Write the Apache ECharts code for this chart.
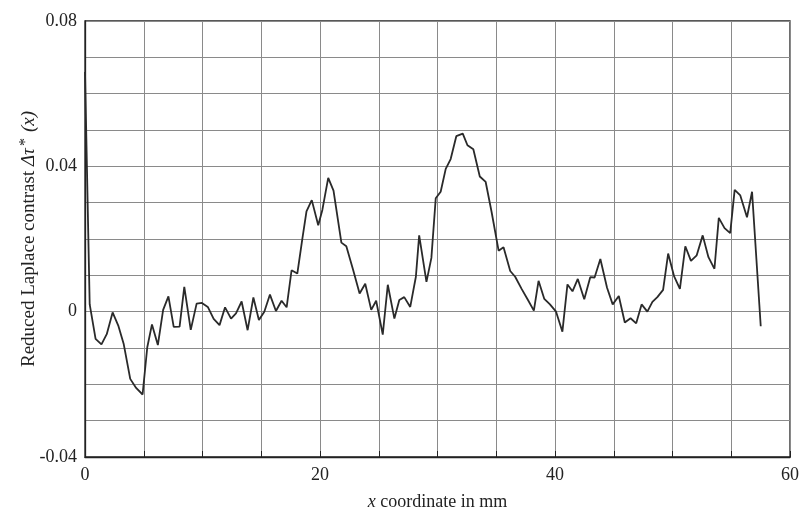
<!DOCTYPE html>
<html>
<head>
<meta charset="utf-8">
<script src="https://cdn.jsdelivr.net/npm/echarts@6/dist/echarts.min.js"></script>
<style>html,body{margin:0;padding:0;background:#fff}#c{width:799px;height:513px}</style>
</head>
<body>
<div id="c"></div>
<script>
var xValues = [0, 0.4, 0.9, 1.4, 1.85, 2.35, 2.85, 3.3, 3.85, 4.35, 4.9, 5.3, 5.7, 6.2, 6.65, 7.1, 7.55, 8.05, 8.45, 9.0, 9.5, 9.95,
  10.45, 10.95, 11.45, 11.92, 12.43, 12.85, 13.33, 13.84, 14.33, 14.8, 15.26, 15.74, 16.25, 16.73, 17.16, 17.58, 18.07, 18.5, 18.85, 19.3, 19.85,
  20.2, 20.7, 21.15, 21.82, 22.24, 22.81, 23.37, 23.85, 24.36, 24.78, 25.34, 25.77, 26.33, 26.75, 27.17, 27.68, 28.16, 28.44, 29.06, 29.48, 29.85,
  30.27, 30.7, 31.12, 31.6, 32.15, 32.55, 33.05, 33.6, 34.1, 34.6, 35.2, 35.62, 36.19, 36.61, 37.17, 37.7, 38.2, 38.6,
  39.09, 39.57, 40.09, 40.63, 41.06, 41.49, 41.94, 42.49, 43.0, 43.37, 43.86, 44.43, 44.91, 45.43, 45.94, 46.43, 46.91, 47.37, 47.86, 48.29, 48.71, 49.2,
  49.63, 50.14, 50.63, 51.09, 51.57, 52.06, 52.57, 53.06, 53.57, 53.94, 54.43, 54.91, 55.29, 55.77, 56.34, 56.77, 57.51];
var yValues = [0.066, 0.002, -0.0075, -0.009, -0.0062, -0.0002, -0.004, -0.009, -0.0185, -0.021, -0.0228, -0.0098, -0.0035, -0.0092, 0.0005, 0.0042, -0.0042, -0.0041, 0.0068, -0.005, 0.0022, 0.0024,
  0.0013, -0.002, -0.0037, 0.0012, -0.0019, -0.0005, 0.0028, -0.0051, 0.0039, -0.0023, 0.0, 0.0047, 0.0002, 0.003, 0.0012, 0.0114, 0.0105, 0.0201, 0.0276, 0.0307, 0.0238,
  0.028, 0.0368, 0.0333, 0.019, 0.018, 0.0116, 0.005, 0.0077, 0.0005, 0.003, -0.0063, 0.0074, -0.0019, 0.0032, 0.004, 0.0013, 0.0096, 0.021, 0.0082, 0.0148, 0.0312,
  0.033, 0.0393, 0.042, 0.0483, 0.049, 0.0458, 0.0447, 0.0372, 0.0357, 0.0275, 0.0168, 0.0177, 0.0112, 0.0096, 0.0062, 0.0032, 0.0003, 0.0085,
  0.0035, 0.002, 0.0, -0.0055, 0.0075, 0.0056, 0.009, 0.0034, 0.0095, 0.0094, 0.0145, 0.0066, 0.002, 0.0043, -0.003, -0.0018, -0.0032, 0.002, 0.0, 0.0027, 0.004, 0.006,
  0.016, 0.0097, 0.0063, 0.018, 0.014, 0.0155, 0.021, 0.015, 0.0118, 0.0258, 0.023, 0.0216, 0.0335, 0.032, 0.026, 0.033, -0.004];
var xTickLabels = [0, 20, 40, 60];
var yTickLabels = [-0.04, 0, 0.04, 0.08];

var serif = '"Liberation Serif", "DejaVu Serif", serif';
function near(v, arr) {
  for (var i = 0; i < arr.length; i++) if (Math.abs(v - arr[i]) < 1e-9) return arr[i];
  return null;
}
var chart = echarts.init(document.getElementById('c'), null, {renderer: 'canvas'});
chart.setOption({
  backgroundColor: '#fff',
  animation: false,
  grid: {left: 85, right: 9, top: 21, bottom: 56, containLabel: false, outerBoundsMode: 'none',
    show: true, borderColor: '#222', borderWidth: 1.3, backgroundColor: 'transparent'},
  xAxis: {
    type: 'value', min: 0, max: 60, interval: 5,
    name: '{i|x} coordinate in mm',
    nameLocation: 'middle', nameGap: 36, nameMoveOverlap: false,
    nameTextStyle: {fontFamily: serif, fontSize: 18, color: '#222',
      rich: {i: {fontFamily: serif, fontSize: 18, fontStyle: 'italic', color: '#222'}}},
    axisLine: {show: true, onZero: false, lineStyle: {color: '#222', width: 1.3}},
    axisTick: {show: true, inside: true, length: 6, lineStyle: {color: '#222'}},
    axisLabel: {fontFamily: serif, fontSize: 18, color: '#222', margin: 9,
      formatter: function (v) { var t = near(v, xTickLabels); return t === null ? '' : String(t); }},
    splitLine: {show: true, lineStyle: {color: '#8a8a8a', width: 1}}
  },
  yAxis: {
    type: 'value', min: -0.04, max: 0.08, interval: 0.01,
    name: 'Reduced Laplace contrast {i|Δτ}{s|*}{i|(x)}',
    nameLocation: 'middle', nameGap: 45, nameRotate: 90, nameMoveOverlap: false,
    nameTextStyle: {fontFamily: serif, fontSize: 19, color: '#222', lineHeight: 22,
      rich: {
        i: {fontFamily: serif, fontSize: 19, fontStyle: 'italic', color: '#222', lineHeight: 22},
        s: {fontFamily: serif, fontSize: 16, color: '#222', lineHeight: 22, verticalAlign: 'top', padding: [0, 6, 0, 2]}
      }},
    axisLine: {show: true, onZero: false, lineStyle: {color: '#222', width: 1.3}},
    axisTick: {show: false},
    axisLabel: {fontFamily: serif, fontSize: 18, color: '#222', margin: 8,
      formatter: function (v) { var t = near(v, yTickLabels); return t === null ? '' : (t === 0 ? '0' : t.toFixed(2)); }},
    splitLine: {show: true, lineStyle: {color: '#8a8a8a', width: 1}}
  },
  series: [{
    type: 'line',
    data: xValues.map(function (x, i) { return [x, yValues[i]]; }),
    showSymbol: false, symbol: 'none',
    lineStyle: {color: '#2a2a2a', width: 1.8},
    clip: true
  }]
});
</script>
</body>
</html>
